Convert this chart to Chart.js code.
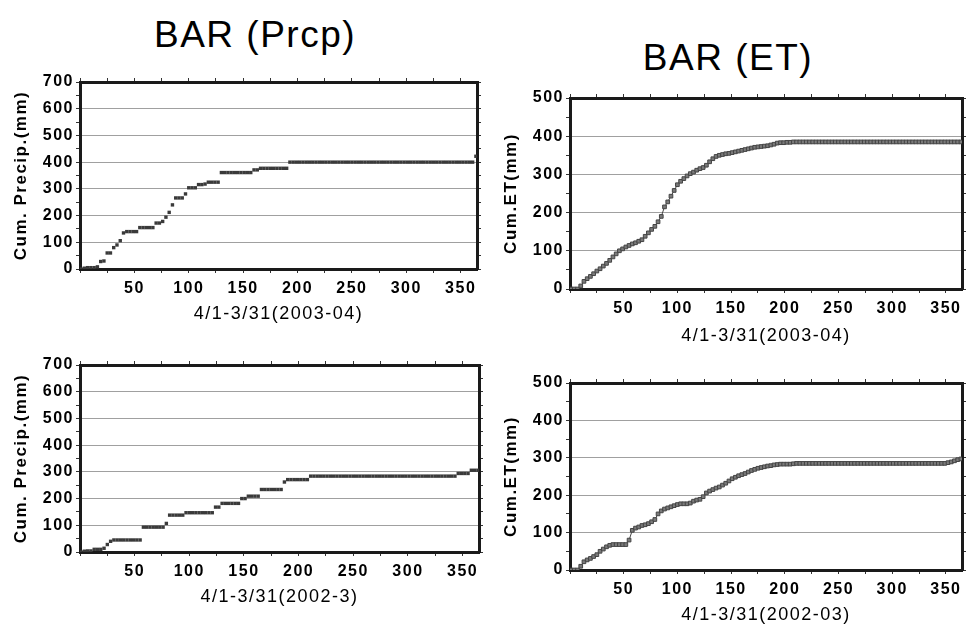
<!DOCTYPE html>
<html>
<head>
<meta charset="utf-8">
<script src="https://cdn.jsdelivr.net/npm/chart.js@4.4.1/dist/chart.umd.min.js"></script>
<style>
  body { margin: 0; background: #fff; }
  #page { position: relative; width: 967px; height: 627px; overflow: hidden; background: #fff; }
  #page canvas { position: absolute; }
  .head {
    position: absolute; width: 300px; text-align: center;
    font: 37px "Liberation Sans", Arial, sans-serif; line-height: 37px;
    letter-spacing: 1.5px; color: #000;
  }
</style>
</head>
<body>
<div id="page">
  <div class="head" style="left:105px; top:16px;">BAR (Prcp)</div>
  <div class="head" style="left:578px; top:39px;">BAR (ET)</div>
  <canvas id="prcp0304" width="490" height="265" style="left:0px; top:60px;"></canvas>
  <canvas id="et0304" width="477" height="272" style="left:490px; top:75px;"></canvas>
  <canvas id="prcp0203" width="490" height="270" style="left:0px; top:345px;"></canvas>
  <canvas id="et0203" width="477" height="267" style="left:490px; top:360px;"></canvas>
</div>
<script>
// day of the water year (4/1 = day 1), sampled every 3 days
const days = [
  1, 4, 7, 10, 13, 16, 19, 22, 25, 28,
  31, 34, 37, 40, 43, 46, 49, 52, 55, 58,
  61, 64, 67, 70, 73, 76, 79, 82, 85, 88,
  91, 94, 97, 100, 103, 106, 109, 112, 115, 118,
  121, 124, 127, 130, 133, 136, 139, 142, 145, 148,
  151, 154, 157, 160, 163, 166, 169, 172, 175, 178,
  181, 184, 187, 190, 193, 196, 199, 202, 205, 208,
  211, 214, 217, 220, 223, 226, 229, 232, 235, 238,
  241, 244, 247, 250, 253, 256, 259, 262, 265, 268,
  271, 274, 277, 280, 283, 286, 289, 292, 295, 298,
  301, 304, 307, 310, 313, 316, 319, 322, 325, 328,
  331, 334, 337, 340, 343, 346, 349, 352, 355, 358,
  361, 364
];

// cumulative precipitation (mm), 2003-04
const prcp0304 = [
  0, 3, 5, 5, 5, 8, 28, 30, 60, 60,
  80, 90, 106, 135, 140, 140, 140, 140, 155, 155,
  155, 155, 155, 172, 172, 178, 194, 212, 240, 266,
  266, 266, 281, 304, 304, 304, 316, 316, 318, 325,
  325, 325, 325, 361, 361, 361, 361, 361, 361, 361,
  361, 361, 361, 371, 371, 377, 377, 377, 377, 377,
  377, 377, 377, 377, 400, 400, 400, 400, 400, 400,
  400, 400, 400, 400, 400, 400, 400, 400, 400, 400,
  400, 400, 400, 400, 400, 400, 400, 400, 400, 400,
  400, 400, 400, 400, 400, 400, 400, 400, 400, 400,
  400, 400, 400, 400, 400, 400, 400, 400, 400, 400,
  400, 400, 400, 400, 400, 400, 400, 400, 400, 400,
  400, 422
];

// cumulative ET (mm), 2003-04
const et0304 = [
  0, 0, 0, 8, 20, 27, 33, 40, 47, 53,
  60, 67, 75, 84, 92, 100, 105, 110, 114, 118,
  121, 125, 129, 138, 147, 156, 164, 176, 190, 215,
  228, 243, 258, 273, 282, 289, 296, 302, 306, 311,
  315, 318, 324, 333, 341, 347, 350, 352, 354, 355,
  357, 359, 361, 363, 365, 367, 369, 371, 372, 373,
  374, 375, 377, 379, 382, 383, 383, 384, 384, 385,
  385, 385, 385, 385, 385, 385, 385, 385, 385, 385,
  385, 385, 385, 385, 385, 385, 385, 385, 385, 385,
  385, 385, 385, 385, 385, 385, 385, 385, 385, 385,
  385, 385, 385, 385, 385, 385, 385, 385, 385, 385,
  385, 385, 385, 385, 385, 385, 385, 385, 385, 385,
  385, 385
];

// cumulative precipitation (mm), 2002-03
const prcp0203 = [
  0, 3, 4, 4, 10, 10, 10, 14, 28, 40,
  45, 45, 45, 45, 45, 45, 45, 45, 45, 93,
  93, 93, 93, 93, 93, 93, 107, 138, 138, 138,
  138, 138, 147, 147, 147, 147, 147, 147, 147, 147,
  147, 168, 168, 182, 182, 182, 182, 182, 182, 200,
  200, 209, 209, 209, 209, 234, 234, 234, 234, 234,
  234, 234, 262, 271, 271, 271, 271, 271, 271, 271,
  284, 284, 284, 284, 284, 284, 284, 284, 284, 284,
  284, 284, 284, 284, 284, 284, 284, 284, 284, 284,
  284, 284, 284, 284, 284, 284, 284, 284, 284, 284,
  284, 284, 284, 284, 284, 284, 284, 284, 284, 284,
  284, 284, 284, 284, 284, 294, 294, 294, 294, 306,
  306, 306
];

// cumulative ET (mm), 2002-03
const et0203 = [
  0, 0, 0, 10, 22, 27, 31, 36, 41, 50,
  56, 62, 66, 68, 68, 68, 68, 68, 80, 106,
  112, 115, 119, 121, 124, 129, 135, 150, 158, 163,
  166, 169, 172, 175, 177, 177, 177, 179, 184, 187,
  189, 196, 206, 211, 215, 219, 222, 227, 232, 238,
  244, 248, 252, 255, 258, 262, 266, 269, 272, 274,
  276, 278, 279, 281, 282, 283, 283, 283, 283, 284,
  285, 285, 285, 285, 285, 285, 285, 285, 285, 285,
  285, 285, 285, 285, 285, 285, 285, 285, 285, 285,
  285, 285, 285, 285, 285, 285, 285, 285, 285, 285,
  285, 285, 285, 285, 285, 285, 285, 285, 285, 285,
  285, 285, 285, 285, 285, 285, 285, 287, 289, 292,
  295, 297
];

const dayMax = 365;
const FONT = '"Liberation Sans", Arial, sans-serif';

// canvas text in the original is widely spaced
const spacing = {
  id: 'spacing',
  beforeDraw(chart) { chart.ctx.letterSpacing = '1.5px'; }
};

function makePanel(id, values, yMax, yTitle, xTitle, box, et) {
  const ctx = document.getElementById(id).getContext('2d');
  const frame = { display: true, color: '#1a1a1a', width: 3 };
  const tickGrid = { drawOnChartArea: false, tickLength: 4, tickColor: '#333', lineWidth: 1 };

  return new Chart(ctx, {
    type: 'scatter',
    data: {
      datasets: [{
        data: days.map((d, i) => ({ x: d, y: values[i] })),
        pointStyle: 'rect',
        pointRadius: et ? 2.6 : 2.4,
        backgroundColor: et ? '#7a7a7a' : '#3a3a3a',
        borderColor: et ? '#444' : '#3a3a3a',
        borderWidth: et ? 1 : 0,
        showLine: et,
        borderJoinStyle: 'round'
      }]
    },
    options: {
      responsive: false,
      animation: false,
      devicePixelRatio: 1,
      layout: { padding: 0 },
      elements: { line: { borderWidth: 3, borderColor: '#666' } },
      plugins: { legend: { display: false }, tooltip: { enabled: false } },
      scales: {
        x: {
          type: 'linear', position: 'bottom', min: 0, max: dayMax,
          border: frame,
          grid: tickGrid,
          ticks: {
            stepSize: 25, includeBounds: false, autoSkip: false, maxRotation: 0,
            padding: 6, color: '#000', font: { family: FONT, size: 16, weight: 'bold' },
            callback: v => (v > 0 && v % 50 === 0) ? v : ''
          },
          title: {
            display: true, text: xTitle, color: '#000',
            font: { family: FONT, size: 18 }, padding: { top: 0, bottom: box.xTitlePad }
          },
          afterFit: s => { s.height = box.bottom; }
        },
        x2: {
          type: 'linear', position: 'top', min: 0, max: dayMax,
          border: frame,
          grid: tickGrid,
          ticks: { display: false, stepSize: 25, includeBounds: false },
          afterFit: s => { s.height = box.top; }
        },
        y: {
          type: 'linear', position: 'left', min: 0, max: yMax,
          border: frame,
          grid: {
            color: c => (c.tick && c.tick.value % 100 === 0) ? '#a0a0a0' : 'rgba(0,0,0,0)',
            lineWidth: 1, tickLength: 4, tickColor: '#333'
          },
          ticks: {
            stepSize: 50, autoSkip: false, padding: 2, color: '#000',
            font: { family: FONT, size: 16, weight: 'bold' },
            callback: v => v % 100 === 0 ? v : ''
          },
          title: {
            display: true, text: yTitle, color: '#000',
            font: { family: FONT, size: 17, weight: 'bold' }, padding: { top: 11, bottom: 0 }
          },
          afterFit: s => { s.width = box.left; }
        },
        y2: {
          type: 'linear', position: 'right', min: 0, max: yMax,
          border: frame,
          grid: tickGrid,
          ticks: { display: false, stepSize: 50 },
          afterFit: s => { s.width = box.right; }
        }
      }
    },
    plugins: [spacing]
  });
}

makePanel('prcp0304', prcp0304, 700, 'Cum. Precip.(mm)', '4/1-3/31(2003-04)',
  { left: 80, right: 13, top: 22, bottom: 56, xTitlePad: 0 }, false);
makePanel('et0304', et0304, 500, 'Cum.ET(mm)', '4/1-3/31(2003-04)',
  { left: 80, right: 2, top: 23, bottom: 58, xTitlePad: 0 }, true);
makePanel('prcp0203', prcp0203, 700, 'Cum. Precip.(mm)', '4/1-3/31(2002-3)',
  { left: 80, right: 11, top: 20, bottom: 63, xTitlePad: 7 }, false);
makePanel('et0203', et0203, 500, 'Cum.ET(mm)', '4/1-3/31(2002-03)',
  { left: 80, right: 2, top: 23, bottom: 57, xTitlePad: 1 }, true);
</script>
</body>
</html>
